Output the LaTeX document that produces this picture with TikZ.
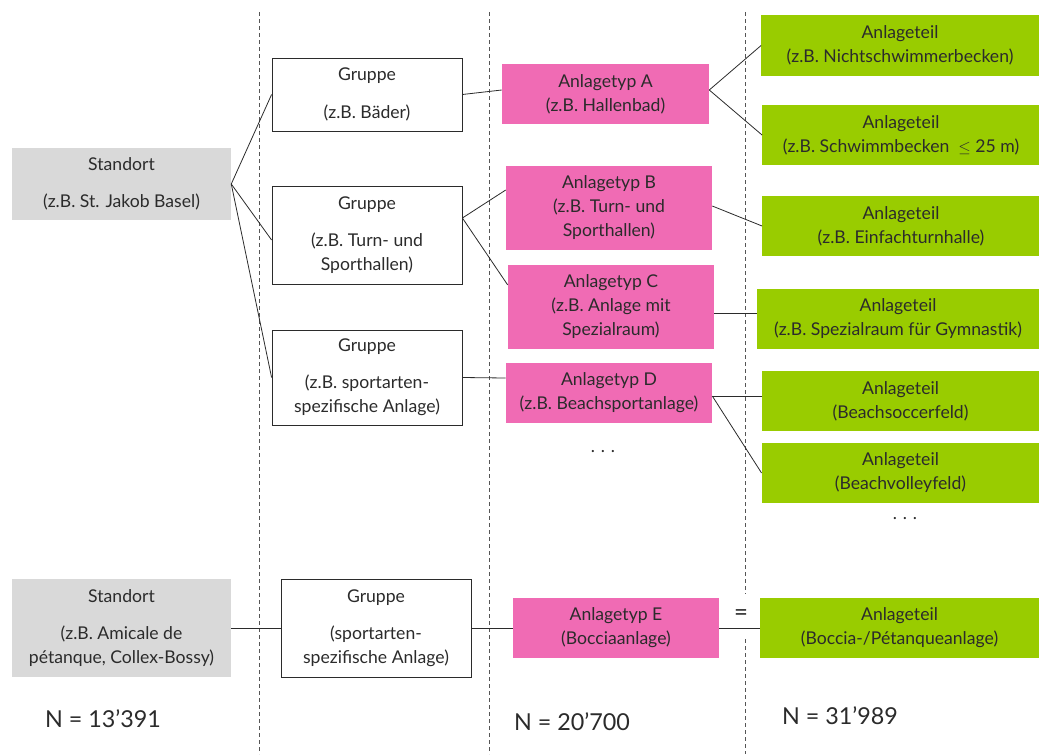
\documentclass[tikz,border=0pt]{standalone}
\usepackage{fontspec}
\setmainfont{Lato}
\definecolor{txt}{HTML}{2B2B2B}
\definecolor{pinkf}{HTML}{F06BB4}
\definecolor{greenf}{HTML}{99CC00}
\definecolor{grayf}{HTML}{D9D9D9}
\definecolor{dashc}{HTML}{555555}
\tikzset{
  base/.style={inner sep=0pt, align=center, text=txt, font=\fontsize{13.2}{18}\selectfont},
  graybox/.style={base, fill=grayf, minimum width=164.25pt},
  whitebox/.style={base, draw=txt, line width=0.6pt, fill=white, minimum width=142.5pt},
  pinkbox/.style={base, fill=pinkf, minimum width=154.5pt},
  greenbox/.style={base, fill=greenf, minimum width=208pt, minimum height=45pt},
  conn/.style={draw=txt, line width=0.6pt},
  sep/.style={draw=dashc, line width=0.7pt, dash pattern=on 3pt off 2.25pt},
  nlabel/.style={inner sep=0pt, text=txt, font=\fontsize{17.5}{20}\selectfont},
}
\begin{document}
\begin{tikzpicture}[x=0.75pt,y=-0.75pt]
\useasboundingbox (0,0) rectangle (1039,754);
% separators
\coordinate (d1t) at (259,12); \coordinate (d1b) at (259,754);
\coordinate (d2t) at (489,12); \coordinate (d2b) at (489,754);
\coordinate (d3t) at (745,12); \coordinate (d3m) at (745,594);
\coordinate (d3n) at (745,639); \coordinate (d3b) at (745,754);
\draw[sep] (d1t) -- (d1b);
\draw[sep] (d2t) -- (d2b);
\draw[sep] (d3t) -- (d3m);
\draw[sep] (d3n) -- (d3b);

% column 1
\node[graybox, minimum height=54pt] (s1) at (121.5,184) {Standort\\[10pt](z.B. St. Jakob Basel)};
\node[graybox, minimum height=73.5pt] (s2) at (121.5,628) {Standort\\[10pt](z.B. Amicale de\\pétanque, Collex-Bossy)};

% column 2
\node[whitebox, minimum height=54.75pt] (g1) at (367,94.5) {Gruppe\\[10pt](z.B. Bäder)};
\node[whitebox, minimum height=73.5pt] (g2) at (367,235) {Gruppe\\[10pt](z.B. Turn- und\\Sporthallen)};
\node[whitebox, minimum height=71.25pt] (g3) at (367,377.5) {Gruppe\\[10pt](z.B. sportarten-\\spezifische Anlage)};
\node[whitebox, minimum height=73.5pt] (g4) at (376,628) {Gruppe\\[10pt](sportarten-\\spezifische Anlage)};

% column 3
\node[pinkbox, minimum width=155.25pt, minimum height=45pt] (ta) at (605.5,94) {Anlagetyp A\\(z.B. Hallenbad)};
\node[pinkbox, minimum height=63pt] (tb) at (609,208) {Anlagetyp B\\(z.B. Turn- und\\Sporthallen)};
\node[pinkbox, minimum height=63pt] (tc) at (611,307) {Anlagetyp C\\(z.B. Anlage mit\\Spezialraum)};
\node[pinkbox, minimum height=45pt] (td) at (609,393) {Anlagetyp D\\(z.B. Beachsportanlage)};
\node[pinkbox, minimum height=45pt] (te) at (616,628) {Anlagetyp E\\(Bocciaanlage)};
\node[base] (dots1) at (603,452) {.\,\,.\,\,.};

% column 4
\node[greenbox, minimum height=45.75pt] (p1) at (900,45.5) {Anlageteil\\(z.B. Nichtschwimmerbecken)};
\node[greenbox] (p2) at (901,135) {Anlageteil\\(z.B. Schwimmbecken \ $\leq$ 25 m)};
\node[greenbox] (p3) at (901,226) {Anlageteil\\(z.B. Einfachturnhalle)};
\node[greenbox, minimum width=211.5pt] (p4) at (898,319) {Anlageteil\\(z.B. Spezialraum für Gymnastik)};
\node[greenbox] (p5) at (900.5,401) {Anlageteil\\(Beachsoccerfeld)};
\node[greenbox] (p6) at (900.5,473) {Anlageteil\\(Beachvolleyfeld)};
\node[greenbox, minimum width=209.25pt] (p7) at (899.5,628) {Anlageteil\\(Boccia-/Pétanqueanlage)};
\node[base] (dots2) at (905,519) {.\,\,.\,\,.};

% connectors
\draw[conn] (s1.east) -- (g1.west);
\draw[conn] (s1.east) -- ([yshift=-3.75pt]g2.west);
\draw[conn] (s1.east) -- (g3.west);
\draw[conn] (g1.east) -- ([yshift=3pt]ta.west);
\draw[conn] ([yshift=12.75pt]g2.east) -- ([yshift=13.5pt]tb.west);
\draw[conn] ([yshift=12.75pt]g2.east) -- ([yshift=16.5pt]tc.west);
\draw[conn] (g3.east) -- ([yshift=11.25pt]td.west);
\draw[conn] ([yshift=3pt]ta.east) -- (p1.west);
\draw[conn] ([yshift=3pt]ta.east) -- (p2.west);
\draw[conn] ([yshift=1.5pt]tb.east) -- (p3.west);
\draw[conn] ([yshift=-4.5pt]tc.east) -- ([yshift=4.5pt]p4.west);
\draw[conn] ([yshift=-2.25pt]td.east) -- ([yshift=3.75pt]p5.west);
\draw[conn] ([yshift=-2.25pt]td.east) -- (p6.west);
\draw[conn] (s2.east) -- (g4.west);
\draw[conn] (g4.east) -- (te.west);
\draw[conn] (te.east) -- (p7.west);
\node[inner sep=0pt, text=txt, font=\fontsize{18}{20}\selectfont] (eq) at (741,615) {=};

% counts
\node[nlabel] (n1) at (103,719) {N = 13’391};
\node[nlabel] (n2) at (572,722) {N = 20’700};
\node[nlabel] (n3) at (840,716) {N = 31’989};
\end{tikzpicture}
\end{document}
